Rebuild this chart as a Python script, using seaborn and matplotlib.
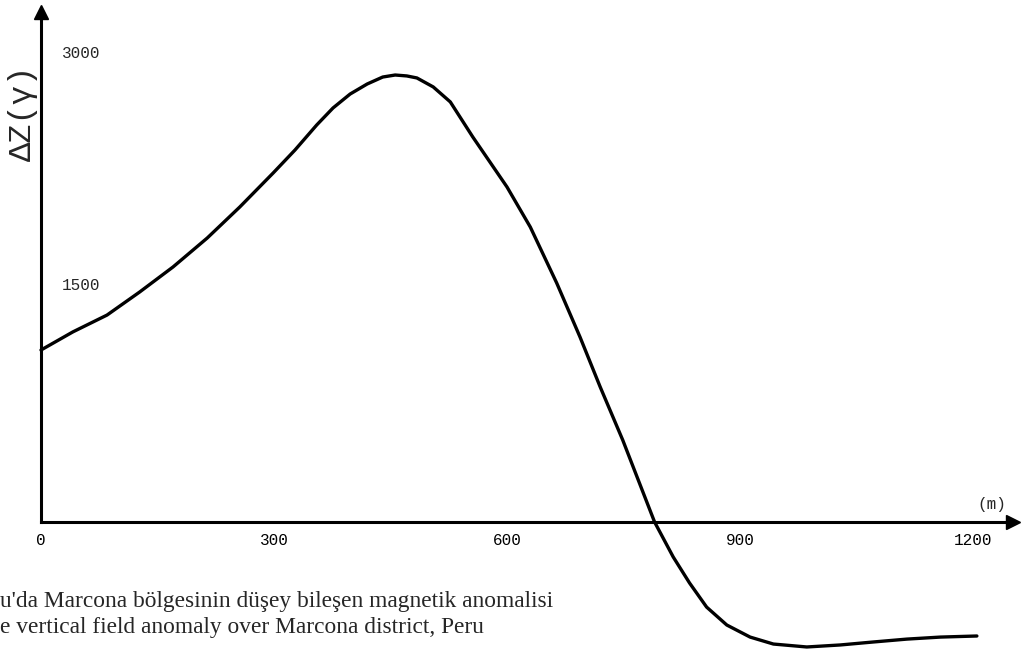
import matplotlib
matplotlib.use("Agg")
import matplotlib.pyplot as plt
import seaborn as sns
import pandas as pd

# ---- data ----
distance_m = [0, 41, 85, 127, 170, 214, 256, 299, 327, 355, 376, 398, 420, 440,
              456, 471, 484, 505, 527, 556, 600, 630, 664, 694, 720, 749, 790,
              814, 835, 857, 883, 913, 943, 986, 1029, 1071, 1115, 1158, 1205]
delta_z = [1112, 1229, 1338, 1487, 1649, 1836, 2037, 2257, 2405, 2567, 2677,
           2767, 2832, 2877, 2890, 2884, 2871, 2813, 2716, 2489, 2166, 1907,
           1545, 1196, 873, 530, 0, -226, -394, -550, -666, -744, -789, -808,
           -795, -776, -757, -744, -737]
x_ticks = [0, 300, 600, 900, 1200]
x_tick_labels = ["0", "300", "600", "900", "1200"]
y_ticks = [1500, 3000]
y_tick_labels = ["1500", "3000"]
y_label = "ΔZ(γ)"
x_unit = "(m)"
caption_lines = ["u'da Marcona bölgesinin düşey bileşen magnetik anomalisi",
                 "e vertical field anomaly over Marcona district, Peru"]

sns.set_style("white")
plt.rcParams["font.family"] = ["DejaVu Sans"]

df = pd.DataFrame({"distance": distance_m, "dz": delta_z})

fig = plt.figure(figsize=(10.21, 6.51), dpi=100)
ax = fig.add_axes([0, 0, 1, 1])
ax.patch.set_alpha(0)

sns.lineplot(data=df, x="distance", y="dz", ax=ax, color="black", lw=2.4,
             sort=False, estimator=None, solid_joinstyle="round",
             solid_capstyle="round")

ax.set_xlim(-52.8, 1261.8)
ax.set_ylim(-834, 3375)

for s in ["top", "right"]:
    ax.spines[s].set_visible(False)
ax.spines["left"].set_position(("data", 0))
ax.spines["bottom"].set_position(("data", 0))
ax.spines["left"].set_bounds(0, 3300)
ax.spines["bottom"].set_bounds(0, 1245)
for s in ["left", "bottom"]:
    ax.spines[s].set_linewidth(2.2)
    ax.spines[s].set_color("black")

# arrow heads
ax.plot(0, 0.982, marker="^", color="black", ms=10,
        transform=ax.get_xaxis_transform(), clip_on=False)
ax.plot(0.992, 0, marker=">", color="black", ms=10,
        transform=ax.get_yaxis_transform(), clip_on=False)

mono = "Liberation Mono"
ax.set_xticks(x_ticks)
ax.set_xticklabels(x_tick_labels, family=mono, fontsize=11.5)
ax.tick_params(axis="x", direction="inout", length=6, width=2, pad=5,
               colors="black")
ax.set_yticks(y_ticks)
ax.tick_params(axis="y", direction="inout", length=6, width=2,
               labelleft=False, colors="black")
for v, lab in zip(y_ticks, y_tick_labels):
    ax.annotate(lab, xy=(0, v), xytext=(15, 3), textcoords="offset points",
                ha="left", va="center", family=mono, fontsize=11.5)

ax.set_xlabel("")
ax.set_ylabel("")
ax.text(1224, 110, x_unit, family=mono, fontsize=11.5, ha="center",
        va="center")
ax.text(0.0225, 0.826, y_label, transform=ax.transAxes, rotation=90,
        family=mono, fontsize=23, ha="center", va="center")

fig.text(0.0, 1 - 601 / 651, caption_lines[0], ha="left", va="center",
         family="Liberation Serif", fontsize=16.8)
fig.text(0.0, 1 - 628 / 651, caption_lines[1], ha="left", va="center",
         family="Liberation Serif", fontsize=16.8)

fig.savefig("out.png", dpi=100)
